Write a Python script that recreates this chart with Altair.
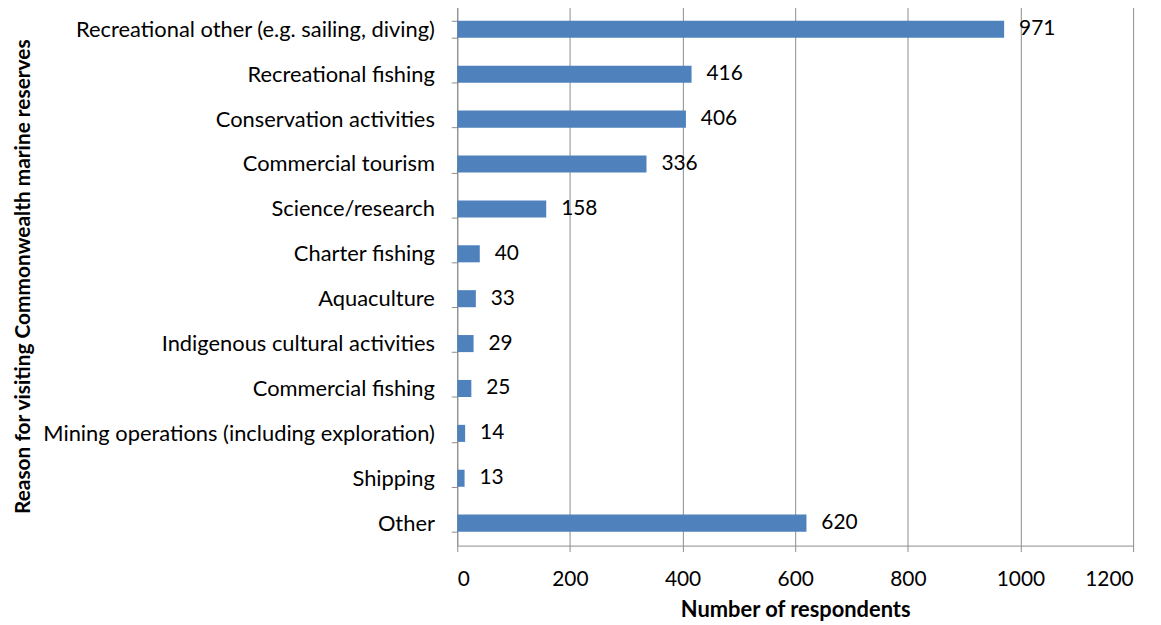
import altair as alt
import pandas as pd

categories = [
    "Recreational other (e.g. sailing, diving)",
    "Recreational fishing",
    "Conservation activities",
    "Commercial tourism",
    "Science/research",
    "Charter fishing",
    "Aquaculture",
    "Indigenous cultural activities",
    "Commercial fishing",
    "Mining operations (including exploration)",
    "Shipping",
    "Other",
]
values = [971, 416, 406, 336, 158, 40, 33, 29, 25, 14, 13, 620]
x_ticks = [0, 200, 400, 600, 800, 1000, 1200]

df = pd.DataFrame({"reason": categories, "count": values})

FONT = "Lato"
GRID = "#8c8c8c"

y = alt.Y(
    "reason:N",
    sort=categories,
    scale=alt.Scale(paddingInner=0.62, paddingOuter=0.31),
    axis=alt.Axis(
        title="Reason for visiting Commonwealth marine reserves",
        titleFont=FONT, titleFontSize=21, titleFontWeight="bold", titleColor="black",
        titleX=-447, titleBaseline="top", titleAngle=-90,
        labelFont=FONT, labelFontSize=22, labelColor="black", labelLimit=460,
        labelPadding=17, tickBand="extent", tickSize=6, tickColor=GRID,
        domainColor=GRID, grid=False,
    ),
)
x = alt.X(
    "count:Q",
    scale=alt.Scale(domain=[0, 1200], nice=False),
    axis=alt.Axis(
        values=x_ticks, format="d",
        title="Number of respondents",
        titleFont=FONT, titleFontSize=22, titleFontWeight="bold", titleColor="black",
        titlePadding=10,
        labelFont=FONT, labelFontSize=21, labelColor="black", labelPadding=17,
        tickSize=6, tickColor=GRID, domainColor=GRID,
        grid=True, gridColor=GRID, gridWidth=1,
    ),
)

bars = alt.Chart(df).mark_bar(color="#4F81BD").encode(x=x, y=y)
labels = alt.Chart(df).mark_text(
    align="left", baseline="middle", dx=15, font=FONT, fontSize=21, color="black"
).encode(x="count:Q", y=alt.Y("reason:N", sort=categories), text="count:Q")

chart = (
    (bars + labels)
    .properties(
        width=680, height=542,
        autosize=alt.AutoSizeParams(type="none"),
        padding={"left": 452, "top": -3, "right": 20, "bottom": 78},
    )
    .configure_view(stroke=None)
)

chart.save("out.html", embed_options={"renderer": "svg", "actions": False})
